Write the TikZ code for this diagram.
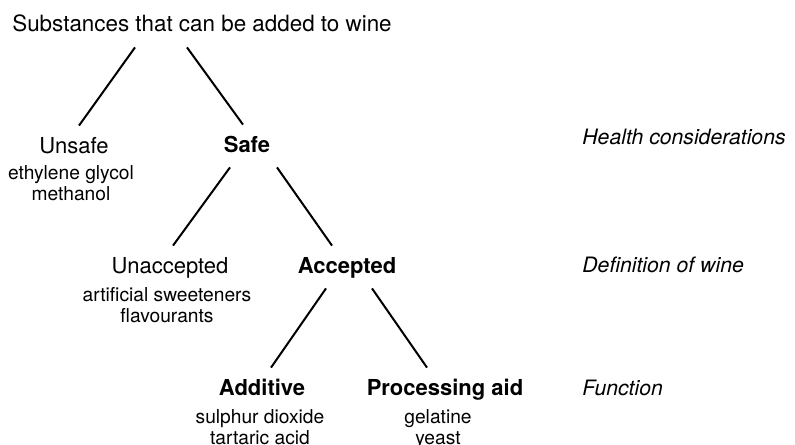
\documentclass[tikz,border=0pt]{standalone}
\usepackage{fontspec}
\setmainfont{TeX Gyre Heros}

\begin{document}
\begin{tikzpicture}[x=0.5pt, y=-0.5pt,
        level/.style={anchor=base, inner xsep=0pt, inner ysep=6pt, text height=7.5pt, text depth=1.5pt,
          font=\fontsize{11}{13}\selectfont},
        chosen/.style={level, font=\fontsize{11}{13}\selectfont\bfseries},
        examples/.style={anchor=base, inner sep=0pt, align=center, font=\fontsize{9.6}{10.5}\selectfont},
        criterion/.style={anchor=base west, inner sep=0pt, font=\fontsize{10.6}{13}\selectfont\itshape},
        branch/.style={line width=1pt}
        ]
        \useasboundingbox (0,0) rectangle (795,444);
        % tree
        \node [level, name=root, font=\fontsize{11.2}{13}\selectfont] at (202,32) {Substances that can be added to wine};
        \node [level, name=unsafe] at (74,153) {Unsafe};
        \node [chosen, name=safe] at (247,152) {Safe};
        \node [level, name=unacc] at (170,273) {Unaccepted};
        \node [chosen, name=acc] at (347,273) {Accepted};
        \node [chosen, name=additive] at (262,395) {Additive};
        \node [chosen, name=procaid] at (445,395) {Processing aid};
        % examples (anchored at the last line)
        \node [examples, name=unsafeex] at (71,200) {ethylene glycol\\methanol};
        \node [examples, name=unaccex] at (167,322) {artificial sweeteners\\flavourants};
        \node [examples, name=additiveex] at (260,444) {sulphur dioxide\\tartaric acid};
        \node [examples, name=procaidex] at (438,444) {gelatine\\yeast};
        % criteria
        \node [criterion, name=health] at (582,144) {Health considerations};
        \node [criterion, name=definition] at (582,272) {Definition of wine};
        \node [criterion, name=function] at (582,395) {Function};
        % branches
        \draw [branch] ([xshift=-33.5pt]root.south) -- ([xshift=2.5pt]unsafe.north);
        \draw [branch] ([xshift=-7.5pt]root.south) -- ([xshift=-2pt]safe.north);
        \draw [branch] ([xshift=-8.5pt]safe.south) -- ([xshift=1.5pt]unacc.north);
        \draw [branch] ([xshift=15pt]safe.south) -- ([xshift=-7.5pt]acc.north);
        \draw [branch] ([xshift=-10.5pt]acc.south) -- ([xshift=4.5pt]additive.north);
        \draw [branch] ([xshift=12.5pt]acc.south) -- ([xshift=-9pt]procaid.north);
\end{tikzpicture}
\end{document}
